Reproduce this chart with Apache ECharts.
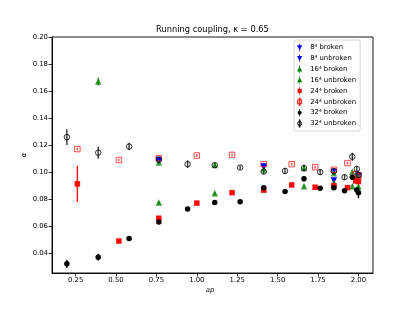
<!DOCTYPE html>
<html><head><meta charset="utf-8">
<script src="https://cdn.jsdelivr.net/npm/echarts@6/dist/echarts.min.js"></script>
<style>html,body{margin:0;padding:0;background:#fff}#c{width:415px;height:312px}</style>
</head><body><div id="c"></div>
<script>
const xTicks = [0.25, 0.50, 0.75, 1.00, 1.25, 1.50, 1.75, 2.00];
const yTicks = [0.04, 0.06, 0.08, 0.10, 0.12, 0.14, 0.16, 0.18, 0.20];

const ap8 = [0.765, 1.414, 1.848, 2.0];
const alpha8Broken = [0.108, 0.104, 0.0935, 0.097];
const err8Broken = [0.001, 0.001, 0.0012, 0.001];
const alpha8Unbroken = [0.109, 0.1035, 0.100, 0.0975];
const err8Unbroken = [0.001, 0.001, 0.001, 0.001];

const ap16Broken = [0.390, 0.765, 1.111, 1.414, 1.663, 1.848, 1.962, 2.0];
const alpha16Broken = [0.167, 0.0772, 0.0842, 0.087, 0.0894, 0.092, 0.0894, 0.0891];
const err16Broken = [0.003, 0.0012, 0.0012, 0.0012, 0.0012, 0.0012, 0.0012, 0.0015];
const ap16Unbroken = [0.765, 1.111, 1.414, 1.663, 1.848, 1.962, 2.0];
const alpha16Unbroken = [0.1069, 0.105, 0.102, 0.1028, 0.099, 0.100, 0.098];
const err16Unbroken = [0.0015, 0.0015, 0.0015, 0.0015, 0.0015, 0.0015, 0.0015];

const ap24 = [0.261, 0.518, 0.765, 1.0, 1.218, 1.414, 1.587, 1.732, 1.848, 1.932, 1.983, 2.0];
const alpha24Broken = [0.0911, 0.0487, 0.0656, 0.0768, 0.0846, 0.0866, 0.0903, 0.0886, 0.0898, 0.0883, 0.0933, 0.0928];
const err24Broken = [0.0135, 0.001, 0.001, 0.001, 0.001, 0.001, 0.001, 0.001, 0.001, 0.001, 0.0015, 0.0015];
const alpha24Unbroken = [0.1169, 0.1088, 0.1102, 0.1121, 0.1126, 0.1057, 0.1057, 0.1035, 0.1015, 0.1065, 0.0983, 0.097];
const err24Unbroken = [0.001, 0.001, 0.001, 0.001, 0.001, 0.001, 0.001, 0.001, 0.001, 0.001, 0.001, 0.001];

const ap32 = [0.196, 0.390, 0.581, 0.765, 0.943, 1.111, 1.268, 1.414, 1.546, 1.663, 1.763, 1.848, 1.914, 1.962, 1.990, 2.0];
const alpha32Broken = [0.0318, 0.0367, 0.0505, 0.0628, 0.0725, 0.0772, 0.0779, 0.0883, 0.0854, 0.0948, 0.0879, 0.0883, 0.0859, 0.096, 0.0865, 0.0845];
const err32Broken = [0.003, 0.0025, 0.0015, 0.0015, 0.0012, 0.0015, 0.0015, 0.0015, 0.0015, 0.002, 0.0015, 0.0015, 0.0015, 0.0015, 0.002, 0.004];
const alpha32Unbroken = [0.1258, 0.1142, 0.1188, 0.1089, 0.1057, 0.105, 0.1032, 0.1002, 0.1007, 0.1028, 0.0998, 0.1005, 0.0961, 0.1112, 0.1022, 0.0975];
const err32Unbroken = [0.0058, 0.0045, 0.0028, 0.002, 0.0028, 0.0015, 0.0015, 0.002, 0.002, 0.0025, 0.002, 0.002, 0.002, 0.003, 0.002, 0.002];

const FONT = 'DejaVu Sans';
const defs = [
  {name:'8\u2074 broken', x:ap8, y:alpha8Broken, e:err8Broken, color:'#0000ff', sym:'triangle', rot:180, size:6.5, open:false, op:1},
  {name:'8\u2074 unbroken', x:ap8, y:alpha8Unbroken, e:err8Unbroken, color:'#0000ff', sym:'triangle', rot:180, size:6.5, open:false, op:0.75},
  {name:'16\u2074 broken', x:ap16Broken, y:alpha16Broken, e:err16Broken, color:'#008000', sym:'triangle', rot:0, size:6.5, open:false, op:0.8},
  {name:'16\u2074 unbroken', x:ap16Unbroken, y:alpha16Unbroken, e:err16Unbroken, color:'#008000', sym:'triangle', rot:0, size:6.5, open:false, op:0.7},
  {name:'24\u2074 broken', x:ap24, y:alpha24Broken, e:err24Broken, color:'#ff0000', sym:'rect', rot:0, size:5.5, open:false, op:0.95},
  {name:'24\u2074 unbroken', x:ap24, y:alpha24Unbroken, e:err24Unbroken, color:'#ff0000', sym:'rect', rot:0, size:5.5, open:true, op:0.7},
  {name:'32\u2074 broken', x:ap32, y:alpha32Broken, e:err32Broken, color:'#000000', sym:'circle', rot:0, size:5.5, open:false, op:1},
  {name:'32\u2074 unbroken', x:ap32, y:alpha32Unbroken, e:err32Unbroken, color:'#000000', sym:'circle', rot:0, size:5.5, open:true, op:0.8}
];

const ICON_BAR = ' M3,0 L4,0 L4,10 L3,10 Z';
const icons = {
  triDown: 'path://M0,2 L7,2 L3.5,8.5 Z' + ICON_BAR,
  triUp: 'path://M3.5,1.5 L7,8 L0,8 Z' + ICON_BAR,
  rect: 'path://M0.8,2.2 L6.2,2.2 L6.2,7.8 L0.8,7.8 Z' + ICON_BAR,
  circle: 'path://M0.8,5 A2.7,2.7 0 1,1 6.2,5 A2.7,2.7 0 1,1 0.8,5 Z' + ICON_BAR
};
function iconFor(d){
  if (d.sym === 'triangle') return d.rot ? icons.triDown : icons.triUp;
  return d.sym === 'rect' ? icons.rect : icons.circle;
}

const series = [];
defs.forEach(function(d, k){
  series.push({
    type:'custom', name:d.name + ' err', silent:true, z:2,
    data: d.x.map(function(x,i){ return [x, d.y[i]-d.e[i], d.y[i]+d.e[i]]; }),
    encode:{x:0, y:[1,2]},
    renderItem:function(params, api){
      const p1 = api.coord([api.value(0), api.value(1)]);
      const p2 = api.coord([api.value(0), api.value(2)]);
      return {type:'line', shape:{x1:p1[0], y1:p1[1], x2:p2[0], y2:p2[1]},
        style:{stroke:d.color, lineWidth:1.4, opacity:d.op}};
    }
  });
  series.push({
    type:'scatter', name:d.name, z:2,
    symbol:d.sym, symbolRotate:d.rot, symbolSize:d.size,
    data: d.x.map(function(x,i){ return [x, d.y[i]]; }),
    itemStyle: d.open ? {color:'rgba(255,255,255,0)', borderColor:d.color, borderWidth:1, opacity:d.op}
                      : {color:d.color, opacity:d.op}
  });
});

const chart = echarts.init(document.getElementById('c'), null, {renderer:'canvas'});
chart.setOption({
  animation:false,
  backgroundColor:'#ffffff',
  grid:{left:52, right:42, top:37, bottom:39, show:true, borderColor:'#000', borderWidth:0.9},
  xAxis:{type:'value', min:0.104, max:2.09,
    axisLine:{show:true, lineStyle:{color:'#000', width:0.9}},
    axisTick:{show:true, inside:false, length:3.5, customValues:xTicks, lineStyle:{color:'#000', width:0.8}},
    axisLabel:{show:true, customValues:xTicks, fontFamily:FONT, fontSize:6.9, color:'#000', margin:4,
      formatter:function(v){ return v.toFixed(2); }},
    splitLine:{show:false}},
  yAxis:{type:'value', min:0.025, max:0.2,
    axisLine:{show:true, lineStyle:{color:'#000', width:0.9}},
    axisTick:{show:true, inside:false, length:3.5, customValues:yTicks, lineStyle:{color:'#000', width:0.8}},
    axisLabel:{show:true, customValues:yTicks, fontFamily:FONT, fontSize:6.9, color:'#000', margin:4,
      formatter:function(v){ return v.toFixed(2); }},
    splitLine:{show:false}},
  legend:{
    orient:'vertical', left:294, top:40, padding:[3, 4, 3, 3],
    itemWidth:13, itemHeight:7.5, itemGap:1.86,
    backgroundColor:'rgba(255,255,255,0.85)', borderColor:'#cccccc', borderWidth:0.8, borderRadius:2,
    textStyle:{fontFamily:FONT, fontSize:6.9, color:'#000', lineHeight:9, padding:[0,0,0,-1]},
    data: defs.map(function(d){
      return {name:d.name, icon:iconFor(d),
        itemStyle: d.open ? {color:'rgba(255,255,255,0)', borderColor:d.color, borderWidth:0.9, opacity:1}
                          : {color:d.color, borderWidth:0, opacity:1}};
    })
  },
  graphic:[
    {type:'text', x:212.5, y:29.5, style:{text:'Running coupling, \u03BA = 0.65', fontFamily:FONT, fontSize:8.3, fill:'#000', align:'center', verticalAlign:'middle'}},
    {type:'text', x:210, y:290.5, style:{text:'ap', fontFamily:FONT, fontStyle:'italic', fontSize:6.9, fill:'#000', align:'center', verticalAlign:'middle'}},
    {type:'text', x:24, y:155, rotation:Math.PI/2, style:{text:'\u03B1', fontFamily:FONT, fontStyle:'italic', fontSize:6.9, fill:'#000', align:'center', verticalAlign:'middle'}}
  ],
  series:series
});
</script></body></html>
